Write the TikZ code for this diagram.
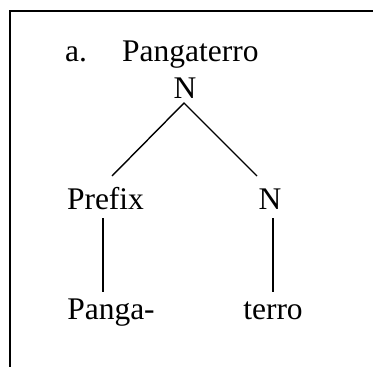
\documentclass[tikz,border=0pt]{standalone}
\usepackage{fontspec}
\setmainfont{Liberation Serif}
\usetikzlibrary{calc}
\begin{document}
\begin{tikzpicture}[x=1pt,y=-1pt,
  lbl/.style={inner sep=0pt,anchor=base,font=\fontsize{31.5}{38}\selectfont},
  edge/.style={line width=1.4pt},
  frame/.style={line width=2pt}]
\useasboundingbox (0,0) rectangle (373,367);
\draw[frame] (10,367) -- (10,11) -- (373,11);
\node[lbl,anchor=base west] (lab) at (65,61) {a.};
\node[lbl,anchor=base west] (title) at (122,61) {Pangaterro};
\node[lbl] (top) at (185,98) {N};
\node[lbl] (pre) at (105.5,209) {Prefix};
\node[lbl] (n2) at (270,209) {N};
\node[lbl] (panga) at (111,319) {Panga-};
\node[lbl] (terro) at (273,319) {terro};
\draw[edge] ($(pre.base)+(6.5,-33)$) -- ($(top.base)+(-1,5)$) -- ($(n2.base)+(-13,-33)$);
\draw[edge] ($(pre.base)+(-2.5,9)$) -- ($(panga.base)+(-8,-27)$);
\draw[edge] ($(n2.base)+(3,9)$) -- ($(terro.base)+(0,-27)$);
\end{tikzpicture}
\end{document}
